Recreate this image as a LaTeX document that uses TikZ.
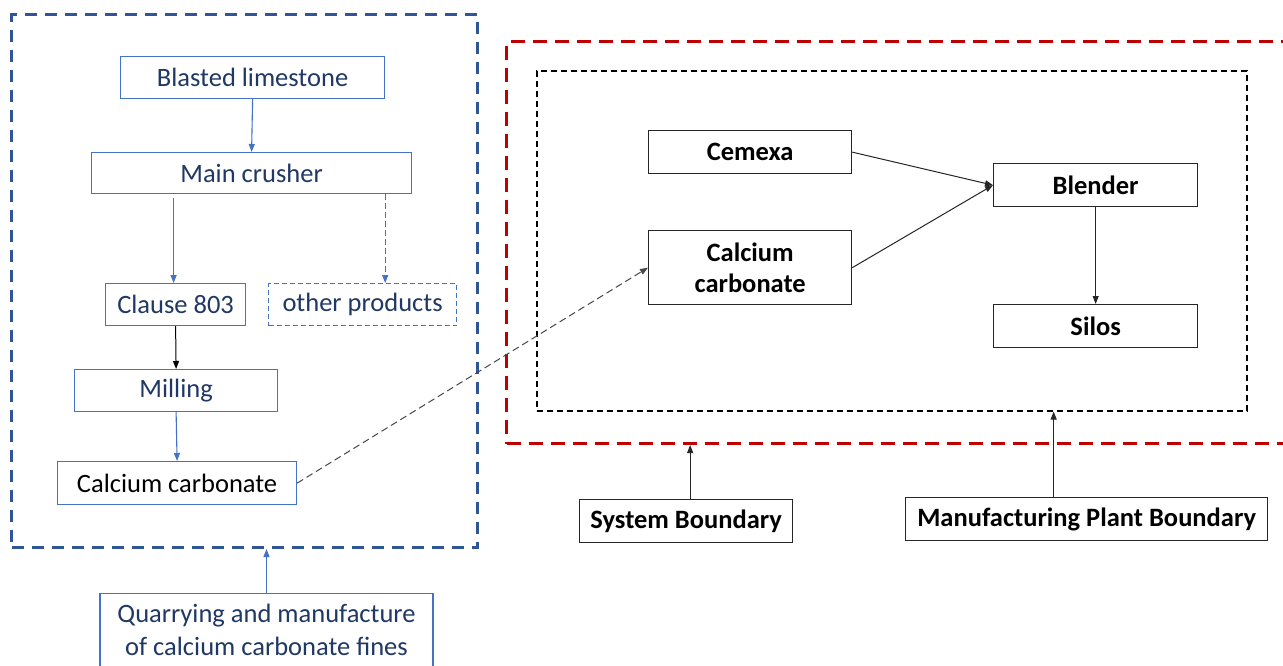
\documentclass[tikz,border=0pt]{standalone}
\usepackage{fontspec}
\setmainfont{Carlito}
\usetikzlibrary{arrows.meta}
\definecolor{bluebd}{HTML}{4472C4}
\definecolor{navy}{HTML}{203864}
\definecolor{outerblue}{HTML}{2F5597}
\definecolor{redbd}{HTML}{C00000}
\definecolor{darkln}{HTML}{262626}
\begin{document}
\begin{tikzpicture}[x=1pt,y=-1pt,
  lbox/.style={draw=bluebd, line width=1.2pt, text=navy, font=\fontsize{26.5}{31}\selectfont, inner sep=0pt, anchor=north west},
  rbox/.style={draw=darkln, line width=1.3pt, text=black, font=\fontsize{26.5}{31}\selectfont\bfseries, inner sep=0pt, anchor=north west, align=center},
  barrow/.style={draw=bluebd, line width=1.1pt, -{Triangle[length=8pt,width=6pt]}},
  karrow/.style={draw=darkln, line width=1pt, -{Triangle[length=8pt,width=6pt]}}
]
\useasboundingbox (0,0) rectangle (1283,665);
\clip (0,0) rectangle (1283,665);
\fill[white] (0,0) rectangle (1283,665);

% boundaries
\node[draw=outerblue, line width=3pt, dash pattern=on 12pt off 8pt, minimum width=466pt, minimum height=533pt, inner sep=0pt, anchor=north west] (outer) at (10,13) {};
\node[draw=redbd, line width=3pt, dash pattern=on 14pt off 8pt, minimum width=820pt, minimum height=402pt, inner sep=0pt, anchor=north west] (red) at (505,40) {};
\node[draw=black, line width=1.5pt, dash pattern=on 6pt off 4pt, minimum width=710pt, minimum height=340pt, inner sep=0pt, anchor=north west] (inner) at (536,70) {};

% left chain
\node[lbox, minimum width=264pt, minimum height=42pt] (bl) at (120,56) {Blasted limestone};
\node[lbox, minimum width=320pt, minimum height=41pt] (mc) at (91,152) {Main crusher};
\node[lbox, minimum width=140pt, minimum height=42pt] (cl) at (105,283) {Clause 803};
\node[lbox, dash pattern=on 5pt off 3pt, minimum width=188pt, minimum height=42pt] (op) at (268,283) {other products};
\node[lbox, minimum width=203pt, minimum height=42pt] (ml) at (74,369) {Milling};
\node[lbox, text=black, minimum width=239pt, minimum height=43pt] (cc1) at (57,461) {Calcium carbonate};
\node[lbox, align=center, minimum width=333pt, inner ysep=10pt, anchor=north] (q) at (266.5,593) {Quarrying and manufacture\\[2pt]of calcium carbonate fines\\[0pt]\rule{0pt}{20pt}};

\draw[barrow] (bl.south) -- (mc.north);
\draw[barrow] ([xshift=-2pt]cl.north |- mc.south) ++(0,4) -- ([xshift=-2pt]cl.north);
\draw[barrow, dash pattern=on 6pt off 3pt] ([xshift=-27pt]mc.south east) -- ([xshift=-27pt]mc.south east |- op.north);
\draw[karrow, draw=black] (cl.south) -- (ml.north);
\draw[barrow] (ml.south) -- (cc1.north);
\draw[barrow] (q.north) -- (q.north |- outer.south);

% right side
\node[rbox, minimum width=203pt, minimum height=43pt] (cem) at (648,130) {Cemexa};
\node[rbox, minimum width=203pt, minimum height=74pt] (cc2) at (648,230) {Calcium\\carbonate};
\node[rbox, minimum width=204pt, minimum height=43pt] (bld) at (993,163) {Blender};
\node[rbox, minimum width=204pt, minimum height=43pt] (sil) at (993,304) {Silos};
\node[rbox, minimum width=213pt, minimum height=43pt] (sb) at (579,499) {System Boundary};
\node[rbox, minimum width=362pt, minimum height=43pt] (mpb) at (905,497) {Manufacturing Plant Boundary};

\draw[karrow] (cem.east) -- (bld.west);
\draw[karrow] (cc2.east) -- (bld.west);
\draw[karrow] (bld.south) -- (sil.north);
\draw[karrow, dash pattern=on 7pt off 4pt, draw=darkln!85] (cc1.east) -- (cc2.west);
\draw[karrow] ([xshift=4pt]sb.north) -- ([xshift=4pt]sb.north |- red.south);
\draw[karrow] ([xshift=-33pt]mpb.north) -- ([xshift=-33pt]mpb.north |- inner.south);
\end{tikzpicture}
\end{document}
